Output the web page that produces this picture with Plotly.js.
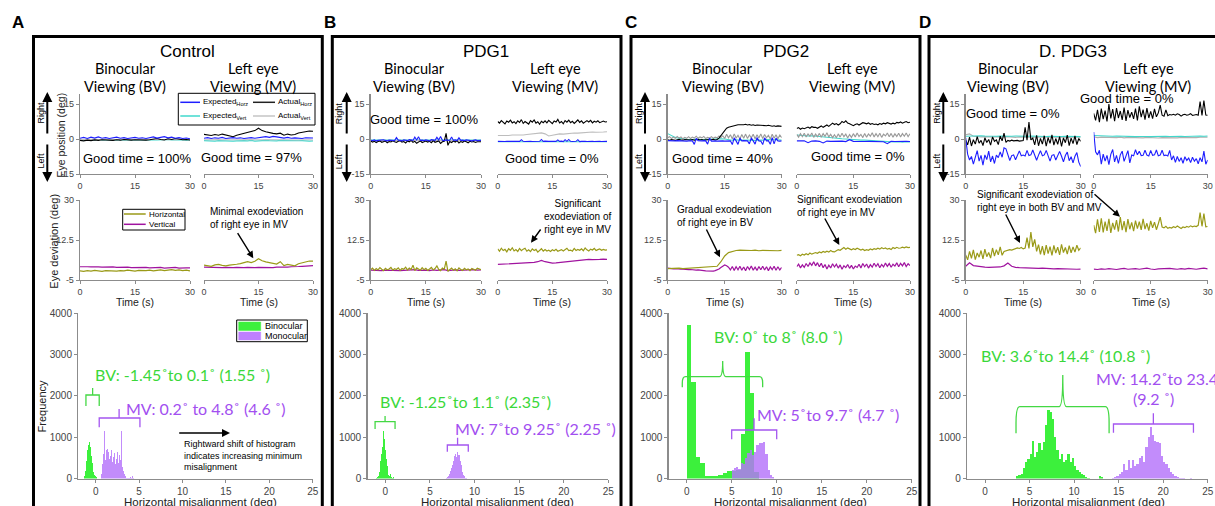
<!DOCTYPE html>
<html><head><meta charset="utf-8">
<script src="https://cdn.plot.ly/plotly-3.0.1.min.js"></script>
<style>html,body{margin:0;padding:0;background:#fff}#chart{width:1215px;height:506px}</style>
</head><body><div id="chart"></div>
<script>
// ---------------- DATA ----------------
const T = [0,1,2,3,4,5,6,7,8,9,10,11,12,13,14,15,16,17,18,19,20,21,22,23,24,25,26,27,28,29,30];
const T2 = [0,0.5,1,1.5,2,2.5,3,3.5,4,4.5,5,5.5,6,6.5,7,7.5,8,8.5,9,9.5,10,10.5,11,11.5,12,12.5,13,13.5,14,14.5,15,15.5,16,16.5,17,17.5,18,18.5,19,19.5,20,20.5,21,21.5,22,22.5,23,23.5,24,24.5,25,25.5,26,26.5,27,27.5,28,28.5,29,29.5,30];

const PANEL_LETTERS = ['A','B','C','D'];
const PANEL_TITLES = ['Control','PDG1','PDG2','D. PDG3'];
const GOOD_BV = ['Good time = 100%','Good time = 100%','Good time = 40%','Good time = 0%'];
const GOOD_MV = ['Good time = 97%','Good time = 0%','Good time = 0%','Good time = 0%'];
const BV_RANGE_TXT = ['BV: -1.45˚to 0.1˚ (1.55 ˚)','BV: -1.25˚to 1.1˚ (2.35˚)','BV: 0˚ to 8˚ (8.0 ˚)','BV: 3.6˚to 14.4˚ (10.8 ˚)'];
const MV_RANGE_TXT = ['MV: 0.2˚ to 4.8˚ (4.6 ˚)','MV: 7˚to 9.25˚ (2.25 ˚)','MV: 5˚to 9.7˚ (4.7 ˚)','MV: 14.2˚to 23.4˚'];
const MV_RANGE_TXT2 = ['','','','(9.2 ˚)'];
const POS_TICKS = [-15,0,15], DEV_TICKS = [-5,12.5,30], TIME_TICKS = [0,15,30];
const HIST_XTICKS = [0,5,10,15,20,25], HIST_YTICKS = [0,1000,2000,3000,4000];

// Panel A (Control)
const A_BV_expH = [0.3,0.7,0.2,0.8,0.4,0.9,0.3,0.6,0.2,0.5,0.8,0.3,0.6,0.2,0.4,0.7,0.3,0.5,0.2,0.6,0.9,0.4,0.7,1.0,0.5,0.8,0.3,0.6,0.2,0.4,0.1];
const A_BV_actH = [-0.6,-0.8,-0.5,-0.7,-0.4,-0.6,-0.3,-0.5,-0.4,-0.6,-0.3,-0.5,-0.2,-0.4,-0.5,-0.3,-0.4,-0.2,-0.5,-0.3,-0.1,0.2,-0.2,-0.4,0.1,-0.2,0.2,-0.1,-0.3,-0.2,-0.4];
const A_BV_expV = [-0.4,-0.3,-0.5,-0.3,-0.4,-0.2,-0.4,-0.3,-0.5,-0.4,-0.3,-0.4,-0.2,-0.3,-0.4,-0.3,-0.5,-0.3,-0.4,-0.2,-0.3,-0.4,-0.3,-0.5,-0.2,-0.4,-0.3,-0.4,-0.3,-0.5,-0.4];
const A_BV_actV = [-0.2,-0.1,-0.3,-0.2,-0.1,-0.2,-0.3,-0.1,-0.2,-0.2,-0.1,-0.3,-0.2,-0.1,-0.2,-0.3,-0.2,-0.1,-0.2,-0.3,-0.1,-0.2,-0.2,-0.3,-0.1,-0.2,-0.3,-0.2,-0.1,-0.2,-0.3];
const A_BV_hor = [-1.0,-1.2,-0.9,-1.1,-0.8,-1.0,-1.2,-0.9,-1.0,-0.8,-1.1,-0.9,-1.0,-0.7,-0.9,-1.1,-0.8,-1.0,-0.9,-0.7,-1.0,-0.8,-0.6,-0.9,-0.7,-0.5,-0.8,-0.6,-0.9,-0.7,-1.0];
const A_BV_ver = [0.8,0.9,0.8,0.7,0.8,0.7,0.6,0.7,0.6,0.7,0.5,0.6,0.5,0.6,0.4,0.5,0.3,0.4,0.5,0.3,0.4,0.3,0.5,0.2,0.4,0.3,0.5,0.2,0.4,0.3,0.3];
const A_MV_expH = [0.3,0.6,0.2,0.5,0.3,0.7,0.2,0.4,0.6,0.3,0.5,0.2,0.4,0.6,0.3,0.5,0.8,1.0,0.7,1.1,0.9,0.6,0.4,0.7,0.3,0.5,0.4,0.2,0.5,0.3,0.4];
const A_MV_actH = [2.0,1.8,1.5,1.9,1.6,2.1,1.8,1.2,1.0,1.6,2.0,2.3,2.8,3.1,3.6,4.6,3.6,3.1,2.6,2.4,2.2,2.5,1.6,2.1,1.7,1.9,2.6,2.9,3.3,3.4,3.3];
const A_MV_expV = [-0.7,-0.8,-0.6,-0.9,-0.7,-0.8,-0.6,-0.7,-0.9,-0.8,-0.6,-0.7,-0.8,-0.6,-0.9,-0.7,-0.8,-0.6,-0.7,-0.9,-0.8,-0.6,-0.7,-0.8,-0.9,-0.7,-0.6,-0.8,-0.7,-0.9,-0.8];
const A_MV_actV = [-0.3,-0.2,-0.4,-0.3,-0.2,-0.3,-0.4,-0.2,-0.3,-0.3,-0.2,-0.4,-0.3,-0.2,-0.3,-0.4,-0.3,-0.2,-0.3,-0.4,-0.2,-0.3,-0.3,-0.4,-0.2,-0.3,-0.4,-0.3,-0.2,-0.3,-0.4];
const A_MV_hor = [1.5,1.3,1.0,1.6,1.8,1.4,1.2,1.5,1.6,1.9,2.2,2.5,3.0,2.6,3.2,4.3,3.4,2.9,2.5,2.2,2.0,3.0,1.3,1.8,1.4,1.2,2.1,2.6,3.1,3.3,3.3];
const A_MV_ver = [0.6,0.5,0.6,0.4,0.5,0.4,0.5,0.3,0.4,0.5,0.3,0.4,0.5,0.3,0.4,0.5,0.4,0.6,0.5,0.4,0.6,0.5,0.7,0.6,0.8,0.7,0.9,1.0,1.1,1.2,1.3];
const A_binX = [-1.3,-1.2,-1.1,-1.0,-0.9,-0.8,-0.7,-0.6,-0.5,-0.4,-0.3,-0.2,-0.1,0.0,0.1];
const A_binY = [60,180,420,640,700,820,880,760,540,380,250,160,90,50,30];
const A_monX = [0.7,0.8,0.9,1.0,1.1,1.2,1.3,1.4,1.5,1.6,1.7,1.8,1.9,2.0,2.1,2.2,2.3,2.4,2.5,2.6,2.7,2.8,2.9,3.0,3.1,3.2,3.3,3.4,3.5,3.6,3.7,3.8,3.9,4.0,4.1,4.2,4.3,4.4];
const A_monY = [100,350,600,1150,450,700,380,720,650,480,550,700,400,1000,520,620,350,480,650,380,560,300,450,1150,280,180,120,60,30,15,10,20,10,40,10,60,90,20];

// Panel B (PDG1)
const B_BV_expH = [-0.5,-0.7,-0.4,-0.8,-0.6,-0.5,-0.7,-0.3,-0.6,-0.8, -0.5,-0.6,-0.4,-0.7,0.6,-0.5,-0.6,-0.8,-0.4,-0.6, -0.7,-0.3,-0.5,-0.6,0.8,-0.4,1.0,-0.6,-0.5,-0.7, -0.4,-0.6,-0.8,-0.3,-0.5,-0.6,0.7,-0.4,1.1,-0.5, -0.7,-0.4,-0.6,-0.5,0.9,-0.6,-0.4,-0.7,0.5,-0.6, -0.5,-0.7,-0.4,-0.6,-0.5,-0.8,-0.6,-0.4,-0.7,-0.5, -0.6];
const B_BV_actH = [-0.9,-1.3,-1.0,-1.5,-1.1,-0.8,-1.4,-1.2,-0.9,-1.6, -1.1,-1.3,-0.8,-1.2,-1.5,-1.0,-0.7,-1.3,-1.1,-1.7, -0.9,-1.2,-0.6,-1.4,-1.0,-1.8,-1.1,-0.8,-1.5,-1.2, -0.9,-1.3,-1.0,-1.6,-0.7,-1.4,-1.1,-0.8,-1.9,-1.2, -1.0,2.4,-2.7,-1.1,-1.5,-0.9,-1.3,-0.7,-1.7,-1.1, -1.4,-0.9,-1.2,-1.6,-1.0,-1.3,-1.1,-1.5,-1.2,-1.3, -1.2];
const B_BV_expV = [-0.5,-0.6,-0.5,-0.4,-0.5,-0.6,-0.5,-0.5,-0.4,-0.5,-0.6,-0.5,-0.5,-0.4,-0.5,-0.6,-0.5,-0.5,-0.4,-0.5,-0.6,-0.5,-0.5,-0.4,-0.5,-0.6,-0.5,-0.5,-0.4,-0.5,-0.5];
const B_BV_actV = [-0.7,-0.8,-0.7,-0.6,-0.7,-0.8,-0.7,-0.7,-0.6,-0.7,-0.8,-0.7,-0.7,-0.6,-0.7,-0.8,-0.7,-0.7,-0.6,-0.7,-0.8,-0.7,-0.7,-0.6,-0.7,-0.8,-0.7,-0.7,-0.6,-0.7,-0.7];
const B_BV_hor = [-0.5,0.2,-0.8,0.0,-0.6,0.4,-0.3,-0.9,0.1,-0.5, -0.2,0.5,-0.7,-0.1,-0.4,0.3,-0.8,0.0,-0.3,0.6, -0.6,0.2,-0.4,1.5,-0.9,0.3,-0.2,-0.7,0.4,-0.5, 0.1,-0.8,-0.2,0.5,-0.6,0.0,1.2,-0.4,-0.9,0.2, -0.3,3.3,-1.2,-0.5,0.2,-0.7,-0.1,-1.0,0.3,-0.4, -0.8,0.1,-0.5,-0.2,-0.9,0.0,-0.4,-0.7,0.2,-0.3, -0.5];
const B_BV_ver = [-0.7,-0.8,-0.6,-0.9,-0.7,-0.8,-0.6,-0.7,-0.9,-0.8,-0.6,-0.7,-0.5,-0.8,-0.6,-0.7,-0.9,-0.6,-0.8,-0.7,-0.5,-0.9,-0.7,-0.6,-0.8,-0.7,-0.6,-0.8,-0.5,-0.7,-0.6];
const B_MV_expH = [-1.0,-1.1,-0.9,-1.0,-1.1,-1.0,-0.9,-1.1,-1.0,-1.0, -1.1,-0.9,-1.0,-0.3,-1.0,-1.1,-1.0,-0.9,-1.0,-1.1, -1.0,-0.9,-1.1,-1.0,-0.2,-1.0,-0.9,-1.1,-1.0,-1.0, -0.9,-1.1,-1.0,-0.4,-1.0,-0.9,-1.1,-0.3,-1.0,-0.2, -1.0,-1.1,-0.9,-1.0,-0.3,-1.1,-1.0,-0.9,-1.0,-1.1, -1.0,-0.9,-1.0,-1.1,-1.0,-0.9,-1.0,-1.1,-1.0,-0.9, -1.0];
const B_MV_actH = [7.5,6.8,7.9,7.0,6.5,7.7,7.2,8.1,6.9,7.4, 6.6,7.8,7.1,8.3,6.7,7.5,7.0,6.4,7.9,7.2, 8.2,6.8,7.4,6.3,7.6,7.0,7.8,6.9,8.0,7.1, 6.6,7.7,7.3,8.4,6.9,7.5,6.5,7.9,7.2,8.1, 7.0,7.6,6.7,7.4,8.2,7.1,7.8,6.8,7.5,7.9, 7.3,8.0,6.9,7.6,7.2,7.8,7.0,7.5,7.7,7.3, 7.4];
const B_MV_expV = [-1.2,-1.1,-1.2,-1.2,-1.1,-1.2,-1.2,-1.1,-1.2,-1.2,-1.1,-1.2,-1.2,-1.1,-1.2,-1.2,-1.1,-1.2,-1.2,-1.1,-1.2,-1.2,-1.1,-1.2,-1.2,-1.1,-1.2,-1.2,-1.1,-1.2,-1.2];
const B_MV_actV = [1.5,1.4,1.6,1.5,1.7,1.6,1.8,1.7,1.9,2.0,2.1,2.3,2.6,2.2,1.3,1.6,1.9,2.2,2.1,2.3,2.4,2.6,2.5,2.7,2.8,2.9,3.0,2.9,3.1,3.0,3.1];
const B_MV_hor = [8.6,7.6,8.9,7.9,8.4,7.3,8.7,8.0,9.1,7.7, 8.3,7.5,8.8,7.8,8.5,8.9,7.6,8.2,7.4,8.6, 7.9,8.4,7.2,8.1,8.7,7.6,8.3,7.7,8.0,7.5, 8.2,7.8,8.4,7.6,8.0,8.3,7.7,8.5,8.9,7.9, 8.1,7.6,8.8,7.9,8.4,8.0,8.6,7.8,9.0,8.2, 7.7,8.5,8.1,8.8,7.9,8.3,8.6,8.0,8.4,8.1, 8.2];
const B_MV_ver = [1.8,1.9,2.0,1.9,2.1,2.0,2.2,2.3,2.4,2.5,2.7,3.0,3.6,3.0,2.6,2.4,2.5,2.7,2.9,3.1,3.3,3.5,3.6,3.8,3.9,4.0,3.9,3.8,4.0,4.1,4.0];
const B_binX = [-1.0,-0.9,-0.8,-0.7,-0.6,-0.5,-0.4,-0.3,-0.2,-0.1,0.0,0.1,0.2,0.3,0.4,0.5,0.6,0.7,0.8,0.9,2.2];
const B_binY = [10,30,60,150,300,420,600,760,1150,950,700,480,300,160,90,60,100,40,20,30,15];
const B_monX = [6.9,7.0,7.1,7.2,7.3,7.4,7.5,7.6,7.7,7.8,7.9,8.0,8.1,8.2,8.3,8.4,8.5,8.6,8.7,8.8,8.9,9.0,9.1];
const B_monY = [10,30,60,100,180,250,330,420,470,540,600,520,650,580,560,420,330,250,160,90,50,20,10];

// Panel C (PDG2)
const C_BV_expH = [-0.7,-0.8,-0.7,-0.9,-0.8,-0.7,-0.8,-0.9,-0.7,-0.8, -0.9,-0.8,-0.7,-0.8,-2.3,0.3,-0.7,-0.9,-0.8,-0.7, -0.8,-2.2,0.4,-0.9,-0.7,-0.8,-0.9,-0.8,-0.7,-0.8, -0.9,-0.8,-0.7,-0.8,-2.4,0.5,-0.8,-2.3,0.4,-0.8, -0.7,-0.9,-0.8,-2.1,0.5,-0.8,-2.2,0.6,-0.8,-0.9, -2.4,0.5,-0.8,-0.7,-2.3,0.6,-2.1,0.4,-0.8,-0.9, -0.8];
const C_BV_actH = [-0.3,-0.5,-0.2,-0.4,-0.6,-0.3,-0.1,-0.4,-0.5,-0.2, -0.3,-0.6,-0.4,-0.2,-0.5,-0.3,-0.1,-0.4,-0.2,-0.5, -0.3,-0.4,-0.2,-0.3,-0.1,-0.4,-0.2,0.4,1.5,2.8, 3.9,4.6,5.0,5.3,5.5,5.8,5.9,6.1,6.0,6.2, 6.1,6.3,6.0,6.2,5.9,6.1,5.8,6.0,5.9,5.7, 5.8,5.6,5.7,5.9,5.6,5.5,5.7,5.4,5.6,5.5, 5.4];
const C_BV_expV = [2.3,1.5,0.7,0.3,0.0,-0.1,-0.2,0.0,-0.1,-0.2,-0.1,0.0,-0.2,-0.1,0.1,0.0,-0.3,-0.5,-0.3,-0.6,-0.4,-0.5,-0.3,-0.6,-0.4,-0.5,-0.2,-0.3,-0.4,-0.3,-0.4];
const C_BV_actV = [0.5,1.0,0.2,0.8,0.3,1.1,0.4,0.9,0.1,0.7, 0.3,1.0,0.2,0.8,0.4,1.2,0.3,0.9,0.5,1.1, 0.2,0.7,0.4,1.0,0.3,0.8,0.5,1.3,0.6,1.4, 0.2,2.0,0.5,1.8,0.1,2.2,0.4,1.6,0.0,1.9, 0.3,2.1,0.2,1.7,0.5,2.0,0.1,1.8,0.4,2.2, 0.2,1.9,0.5,1.6,0.0,2.0,0.3,1.8,0.1,1.7, 0.6];
const C_BV_hor = [0.0,0.1,-0.1,0.2,0.0,0.1,0.3,0.2,0.4,0.3,0.5,0.6,0.8,1.0,3.0,5.5,7.0,7.6,7.9,8.1,8.0,8.2,7.9,8.1,7.8,8.0,7.9,7.7,7.9,7.8,8.0];
const C_BV_ver = [0.2,0.0,0.1,-0.1,0.0,-0.2,-0.1,-0.3,-0.2,-0.4, -0.3,-0.5,-0.4,-0.6,-0.5,-0.7,-0.6,-0.8,-0.7,-0.9, -1.0,-1.1,-1.0,-1.2,-1.1,-0.9,-0.6,-0.2,0.5,1.2, 1.6,1.2,0.6,-0.6,0.9,-0.8,0.8,-0.5,1.0,-0.7, 0.7,-0.9,0.9,-0.4,1.1,-0.7,0.6,-0.8,0.9,-0.5, 1.0,-0.6,0.8,-0.9,0.7,-0.5,1.0,-0.7,0.8,-0.6, 0.5];
const C_MV_expH = [-0.8,-0.9,-0.8,-1.6,-0.9,-0.8,-1.0,-1.7,-0.9,-1.0,-0.9,-1.0,-0.9,-1.1,-0.3,-1.0,-1.1,-1.0,-1.1,-1.0,-1.1,-1.0,-1.1,-1.2,-2.0,-1.0,-1.1,-1.0,-1.1,-1.0,-1.1];
const C_MV_actH = [4.5,4.9,4.2,4.7,4.4,4.9,5.1,4.6,5.3,5.0, 5.0,4.6,5.2,5.6,5.0,5.5,6.0,5.4,6.3,6.8, 6.2,6.6,6.0,6.5,7.5,7.0,7.8,6.8,6.5,6.0, 5.7,6.2,6.5,6.0,6.4,7.0,6.8,6.5,6.9,6.3, 6.6,6.2,6.4,6.1,6.6,6.3,6.8,6.5,7.0,6.7, 6.4,6.8,6.5,7.1,6.9,7.3,6.8,7.2,7.5,7.0, 7.2];
const C_MV_expV = [1.7,1.5,1.6,1.3,1.4,1.2,1.0,0.9,0.8,0.6,0.5,0.3,0.1,0.0,-0.2,-0.4,-0.3,-0.5,-0.4,-0.6,-0.5,-0.8,-0.9,-1.0,-1.2,-1.1,-1.3,-1.2,-1.4,-1.2,-1.3];
const C_MV_actV = [2.0,0.8,2.3,1.0,2.5,0.9,2.2,1.2,2.6,0.7, 2.1,1.0,2.4,0.8,2.3,1.1,2.7,0.9,2.0,0.6, 1.8,0.5,2.2,0.8,2.5,1.0,2.1,0.4,1.9,0.7, 2.3,0.9,2.6,1.1,2.0,0.6,2.4,0.8,2.2,1.2, 2.7,0.9,2.3,1.0,2.5,0.7,2.1,1.3,2.6,1.0, 2.4,0.8,2.2,1.1,2.5,0.9,2.3,1.2,2.6,1.0, 2.2];
const C_MV_hor = [5.8,6.1,5.6,6.3,5.9,6.5,6.0,6.8,6.3,6.6, 7.0,6.7,7.3,6.9,7.5,7.1,7.6,7.2,7.9,7.4, 7.3,7.8,8.3,8.0,8.8,9.2,8.5,9.0,8.6,8.2, 8.7,8.3,8.9,8.4,8.1,8.5,7.9,8.3,8.0,8.6, 8.2,8.7,8.4,8.9,8.5,9.1,8.7,9.0,8.5,8.8, 8.3,9.2,8.8,9.3,8.9,9.0,9.4,9.1,9.5,9.2, 9.3];
const C_MV_ver = [0.8,1.9,0.3,1.6,0.5,2.2,0.9,2.5,1.4,3.0, 1.2,2.6,0.8,2.3,0.4,1.8,-0.2,1.5,0.3,2.1, 0.7,1.9,0.2,1.6,-0.3,1.2,0.4,1.8,0.1,1.4, -0.2,1.1,0.5,1.9,0.3,2.2,0.8,2.0,0.2,1.7, 0.6,2.3,0.9,2.1,0.4,1.8,0.7,2.4,1.0,2.2, 0.6,1.9,1.1,2.5,0.8,2.3,1.2,2.6,0.9,2.1, 1.3];
const C_binX = [0.25,0.75,1.25,1.75,2.25,2.75,3.25,3.75,4.25,4.75,5.25,5.75,6.25,6.75,7.25,7.75];
const C_binY = [3720,2330,530,370,70,70,60,80,140,170,190,200,1070,3050,2070,150];
const C_monX = [5.125,5.375,5.625,5.875,6.125,6.375,6.625,6.875,7.125,7.375,7.625,7.875,8.125,8.375,8.625,8.875,9.125,9.375,9.625];
const C_monY = [200,260,290,230,380,350,500,620,700,580,650,800,850,870,880,600,200,80,30];

// Panel D (PDG3)
const D_BV_expH = [0.5,-6.5,-9.0,-7.5,-10.8,-7.2,-5.0,-9.5,-7.0,-11.2, -6.8,-8.8,-5.2,-9.8,-7.3,-10.5,-6.9,-8.0,-5.5,-7.8, -3.8,-4.2,-6.9,-9.2,-7.1,-6.8,-8.9,-7.0,-5.1,-7.2, -6.9,-7.3,-4.9,-7.1,-6.8,-4.7,-7.0,-9.1,-6.9,-5.0, -7.2,-6.8,-4.9,-7.1,-9.5,-7.0,-6.7,-9.0,-7.2,-5.3, -7.4,-9.8,-7.1,-5.6,-9.3,-7.6,-10.2,-7.4,-5.8,-9.9, -11.8];
const D_BV_actH = [-0.5,-2.5,0.8,-3.0,-0.3,-2.2,1.0,-1.8,-0.6,-2.8, 0.5,-1.5,-0.2,-2.6,0.9,-1.0,-0.4,-2.4,1.2,-0.8, 2.5,-1.4,-0.6,-0.9,-0.5,-0.8,-0.7,-0.6,-0.9,-0.8, -0.7,5.0,-0.5,7.3,-0.4,0.4,-2.5,1.6,-2.9,0.3, -2.2,1.4,-3.1,0.6,-1.9,1.8,-2.6,0.2,-2.3,1.0, -3.2,0.5,-1.6,1.7,-2.8,0.4,-2.0,1.3,-2.4,0.2, -1.0];
const D_BV_expV = [1.2,1.3,1.2,1.3,1.4,1.3,1.2,1.3,1.2,1.3,1.2,1.1,1.2,1.3,1.2,1.1,1.2,1.3,1.2,1.1,1.2,1.1,1.2,1.1,1.0,1.1,1.2,1.1,1.0,1.1,1.0];
const D_BV_actV = [1.8,2.2,1.2,1.0,0.9,1.0,0.8,0.9,1.0,0.8,0.9,1.0,0.8,0.7,0.9,0.8,1.0,0.9,0.8,0.9,0.7,0.8,0.9,0.8,0.7,0.9,0.8,0.7,0.8,0.9,0.8];
const D_BV_hor = [6.0,3.8,7.5,4.5,8.2,3.9,6.8,5.0,7.9,4.2, 8.5,5.2,7.0,4.6,9.0,5.5,8.3,6.0,9.5,5.8, 7.5,7.8,8.0,8.3,8.1,8.5,8.7,9.0,8.8,9.2, 8.6,9.0,13.5,8.8,16.0,9.5,12.8,7.5,10.5,6.2, 9.8,5.9,10.3,6.5,9.6,5.8,10.1,6.8,9.4,6.0, 10.6,7.0,9.2,6.3,10.0,6.9,9.5,7.2,10.2,8.0, 9.0];
const D_BV_ver = [1.0,2.5,1.3,1.0,0.8,0.6,0.5,0.6,0.4,0.7,1.2,2.4,1.0,0.5,0.4,0.3,0.2,0.3,0.2,0.1,0.2,0.0,0.1,-0.1,0.0,-0.1,-0.2,-0.1,-0.2,-0.3,-0.2];
const D_MV_expH = [3.0,-5.5,-6.8,-4.8,-10.8,-6.5,-9.5,-7.0,-11.0,-6.6, -4.5,-9.8,-7.0,-10.5,-6.8,-5.2,-9.6,-7.1,-5.0,-10.2, -6.9,-7.2,-4.6,-6.8,-5.2,-7.1,-7.0,-4.8,-6.9,-7.3, -4.9,-7.0,-6.8,-4.7,-7.2,-6.9,-4.8,-7.1,-6.9,-7.3, -4.9,-9.0,-7.2,-10.0,-7.5,-9.6,-8.0,-10.4,-7.6,-9.2, -8.2,-10.1,-7.8,-9.5,-8.4,-10.6,-8.0,-9.8,-5.2,-10.8, -9.0];
const D_MV_actH = [11.0,8.0,12.5,7.2,13.0,8.5,12.2,7.5,15.0,8.8, 12.8,7.6,13.2,9.0,12.0,8.2,13.5,7.8,12.4,9.2, 11.5,8.6,13.0,8.0,14.0,9.4,12.6,8.3,13.2,9.0, 11.8,8.7,12.9,9.5,11.2,14.5,10.2,9.8,12.5,10.0, 10.5,10.3,10.6,10.2,10.8,10.5,9.8,10.4,10.6,10.2, 10.4,10.9,10.1,10.3,10.5,10.2,16.0,10.1,16.5,10.3, 10.2];
const D_MV_expV = [1.5,1.4,1.3,1.4,1.3,1.2,1.3,1.2,1.1,1.2,1.1,1.0,1.1,1.2,1.1,1.0,1.1,1.0,1.1,1.2,1.1,1.2,1.3,1.2,1.1,1.2,1.3,1.2,1.3,1.2,1.3];
const D_MV_actV = [1.0,0.6,0.8,0.7,0.5,0.7,0.6,0.8,0.5,0.7,0.6,0.4,0.6,0.5,0.7,0.5,0.6,0.4,0.6,0.5,0.7,0.6,0.5,0.7,0.6,0.8,0.7,0.6,0.8,0.7,0.8];
const D_MV_hor = [19.0,15.5,21.5,16.0,22.0,15.8,20.5,16.5,21.8,15.6, 20.0,17.0,21.2,16.2,22.5,16.8,20.8,15.9,21.6,17.2, 20.2,16.4,21.0,17.5,20.5,16.9,21.8,17.3,19.8,16.6, 20.9,17.8,20.3,17.0,19.6,22.5,18.2,17.8,18.5,17.6, 18.0,17.7,18.3,17.9,18.6,18.0,17.5,18.2,17.9,18.4, 18.1,18.7,18.3,18.6,18.4,18.9,24.5,18.5,24.0,18.3, 18.4];
const D_MV_ver = [-0.2,-0.4,-0.1,-0.3,0.0,-0.2,-0.4,-0.1,0.1,-0.3,-0.2,0.0,-0.3,-0.1,0.2,-0.2,-0.4,-0.1,0.0,-0.2,0.1,-0.1,-0.3,0.0,-0.2,0.1,-0.1,-0.3,0.0,0.2,-0.1];
const D_binX = [3.625,3.875,4.125,4.375,4.625,4.875,5.125,5.375,5.625,5.875,6.125,6.375,6.625,6.875,7.125,7.375,7.625,7.875,8.125,8.375,8.625,8.875,9.125,9.375,9.625,9.875,10.125,10.375,10.625,10.875,11.125,11.375,11.625,12.875,13.125];
const D_binY = [60,80,100,250,400,480,600,900,520,650,850,700,880,1300,1650,1600,1450,1000,700,480,600,400,450,600,400,500,300,200,150,120,80,40,20,60,40];
const D_monX = [14.375,14.625,14.875,15.125,15.375,15.625,15.875,16.125,16.375,16.625,16.875,17.125,17.375,17.625,17.875,18.125,18.375,18.625,18.875,19.125,19.375,19.625,19.875,20.125,20.375,20.625,20.875,21.125,21.375,21.625,21.875,22.125,22.375,23.125];
const D_monY = [20,30,60,120,150,350,200,450,250,450,300,350,500,550,400,750,1000,1250,1050,900,880,850,550,400,350,250,150,100,60,30,20,15,10,20];

// Bracket extents (data units of the histogram axes): [x0, x1, xc, yTop, yBar, yEnd]
const BR_BV = [[-1.12,0.41,-0.35,2187,2018,1752],[-1.15,1.09,-0.03,1510,1373,1196],[-0.49,8.44,4.0,2840,2460,2204],[3.48,13.93,8.73,2502,1735,1093]];
const BR_MV = [[0.41,5.1,2.7,1680,1462,1237],[6.95,9.3,8.1,986,810,648],[5.0,10.0,7.48,1455,1172,947],[14.42,23.4,18.9,1576,1317,1107]];

// ---------------- BUILD ----------------
const W=1215,H=506;
const ARIAL='"Liberation Sans", Arial, sans-serif', CAL='Lato, "Open Sans", sans-serif';
const COL={expH:'#1e1eff',actH:'#000000',expV:'#40d8cc',hor:'#9a9a18',ver:'#a0139f',bin:'#3cf03c',mon:'rgba(180,115,250,0.82)',binTxt:'#3ad83a',monTxt:'#a24ff0',axis:'#8c8c8c',tick:'#444444'};

const SER = {
 A:{BV:{pos:{expV:[T,A_BV_expV],actV:[T,A_BV_actV],actH:[T,A_BV_actH],expH:[T,A_BV_expH]},dev:{ver:[T,A_BV_ver],hor:[T,A_BV_hor]}},
    MV:{pos:{expV:[T,A_MV_expV],actV:[T,A_MV_actV],actH:[T,A_MV_actH],expH:[T,A_MV_expH]},dev:{ver:[T,A_MV_ver],hor:[T,A_MV_hor]}},
    hist:{bin:[A_binX,A_binY,0.1],mon:[A_monX,A_monY,0.1]}},
 B:{BV:{pos:{expV:[T,B_BV_expV],actV:[T,B_BV_actV],actH:[T2,B_BV_actH],expH:[T2,B_BV_expH]},dev:{ver:[T,B_BV_ver],hor:[T2,B_BV_hor]}},
    MV:{pos:{expV:[T,B_MV_expV],actV:[T,B_MV_actV],actH:[T2,B_MV_actH],expH:[T2,B_MV_expH]},dev:{ver:[T,B_MV_ver],hor:[T2,B_MV_hor]}},
    hist:{bin:[B_binX,B_binY,0.1],mon:[B_monX,B_monY,0.1]}},
 C:{BV:{pos:{expV:[T,C_BV_expV],actV:[T2,C_BV_actV],actH:[T2,C_BV_actH],expH:[T2,C_BV_expH]},dev:{ver:[T2,C_BV_ver],hor:[T,C_BV_hor]}},
    MV:{pos:{expV:[T,C_MV_expV],actV:[T2,C_MV_actV],actH:[T2,C_MV_actH],expH:[T,C_MV_expH]},dev:{ver:[T2,C_MV_ver],hor:[T2,C_MV_hor]}},
    hist:{bin:[C_binX,C_binY,0.5],mon:[C_monX,C_monY,0.25]}},
 D:{BV:{pos:{actV:[T,D_BV_actV],expV:[T,D_BV_expV],actH:[T2,D_BV_actH],expH:[T2,D_BV_expH]},dev:{ver:[T,D_BV_ver],hor:[T2,D_BV_hor]}},
    MV:{pos:{actV:[T,D_MV_actV],expV:[T,D_MV_expV],actH:[T2,D_MV_actH],expH:[T2,D_MV_expH]},dev:{ver:[T,D_MV_ver],hor:[T2,D_MV_hor]}},
    hist:{bin:[D_binX,D_binY,0.25],mon:[D_monX,D_monY,0.25]}}
};

// layout geometry (pixels)
const GEO = [
 {bv:[80,190], mv:[204,313], hist:[78.3,312.7], box:[33.5,322.3], arrowX:47.3, rlX:40.5, sub:[125,253], title:187.5, letter:18.3, gt:[[137,159],[251.5,157]], gray:'#c4c4c4', brTxt:[[92.7,374],[124,408.3]], curly:false, xlab:200.5},
 {bv:[370.7,481], mv:[497.7,607], hist:[367.5,608.3], box:[332.3,621], arrowX:346.7, rlX:339.3, sub:[414,555], title:486.3, letter:330, gt:[[423.8,120],[552.2,158]], gray:'#bdbdbd', brTxt:[[378,401.7],[453,428]], curly:false, xlab:497},
 {bv:[667.7,781.7], mv:[796.7,910], hist:[668.7,911.7], box:[631,920], arrowX:645, rlX:639, sub:[722.5,852], title:786, letter:631, gt:[[722.5,159],[858.3,156.7]], gray:'#9a9a9a', brTxt:[[711.7,336.7],[755,414.3]], curly:true, xlab:790.8},
 {bv:[965.7,1080.7], mv:[1093.7,1207.7], hist:[967.2,1207.7], box:[929,1240], arrowX:943.3, rlX:936.7, sub:[1008,1148], title:1073.3, letter:925, gt:[[1013,113.3],[1126.7,99]], gray:'#b0b0b0', brTxt:[[979.3,355],[1094,378.3]], curly:true, xlab:1088.7}
];
const ROW = {pos:[93.5,174], dev:[200,280], hist:[313,478.5]};

const xd = (a)=>[a[0]/W, a[1]/W];
const yd = (r)=>[1-r[1]/H, 1-r[0]/H];
const layout = {width:W,height:H,margin:{l:0,r:0,t:0,b:0},paper_bgcolor:'#fff',plot_bgcolor:'rgba(0,0,0,0)',showlegend:false,barmode:'overlay',bargap:0,annotations:[],shapes:[]};
const traces = [];
const axBase = ()=>({showgrid:false,zeroline:false,showline:true,linecolor:COL.axis,linewidth:1.3,ticks:'outside',ticklen:3,tickwidth:1,tickcolor:COL.axis,tickfont:{family:ARIAL,size:9,color:COL.tick},fixedrange:true});
const hidden = ()=>({visible:false,fixedrange:true});

function tickSet(vals){return {tickmode:'array',tickvals:vals,ticktext:vals.map(v=>String(v))};}

function txt(x,y,t,o){layout.annotations.push(Object.assign({xref:'paper',yref:'paper',x:x/W,y:1-y/H,text:t,showarrow:false,xanchor:'center',yanchor:'middle',font:{family:ARIAL,size:10,color:'#000'}},o||{}));}
function arrow(x0,y0,x1,y1,o){layout.annotations.push(Object.assign({xref:'paper',yref:'paper',x:x1/W,y:1-y1/H,axref:'pixel',ayref:'pixel',ax:x0-x1,ay:y0-y1,text:'',showarrow:true,arrowhead:2,arrowsize:1,arrowwidth:1.4,arrowcolor:'#000'},o||{}));}
function pline(x0,y0,x1,y1,color,w){layout.shapes.push({type:'line',xref:'paper',yref:'paper',x0:x0/W,y0:1-y0/H,x1:x1/W,y1:1-y1/H,line:{color:color,width:w||1}});}
function prect(x0,y0,x1,y1,line,fill,w){layout.shapes.push({type:'rect',xref:'paper',yref:'paper',x0:x0/W,y0:1-y1/H,x1:x1/W,y1:1-y0/H,line:{color:line,width:w||1},fillcolor:fill||'rgba(0,0,0,0)'});}

const posColor = (g)=>({expH:COL.expH,actH:COL.actH,expV:COL.expV,actV:g.gray});

PANEL_LETTERS.forEach((L,i)=>{
  const g = GEO[i], S = SER[L];
  const subs = [['BV','pos',g.bv,ROW.pos],['MV','pos',g.mv,ROW.pos],['BV','dev',g.bv,ROW.dev],['MV','dev',g.mv,ROW.dev],[null,'hist',g.hist,ROW.hist]];
  subs.forEach((sd,s)=>{
    const n=i*5+s+1, sx = n===1?'':String(n);
    const xk='xaxis'+sx, yk='yaxis'+sx, xr='x'+sx, yr='y'+sx;
    const xa = Object.assign(axBase(),{domain:xd(sd[2]),anchor:yr});
    let ya;
    if(sd[1]==='pos'){
      Object.assign(xa,{range:[0,30]},tickSet(TIME_TICKS));
      ya = sd[0]==='BV' ? Object.assign(axBase(),{domain:yd(sd[3]),anchor:xr,range:[-15,19.5]},tickSet(POS_TICKS)) : Object.assign(hidden(),{domain:yd(sd[3]),anchor:xr,range:[-15,19.5]});
      const grp = S[sd[0]].pos, pc = posColor(g);
      Object.keys(grp).forEach(k=>{traces.push({type:'scatter',mode:'lines',x:grp[k][0],y:grp[k][1],xaxis:xr,yaxis:yr,line:{color:pc[k],width:1.1},hoverinfo:'skip'});});
    } else if(sd[1]==='dev'){
      Object.assign(xa,{range:[0,30]},tickSet(TIME_TICKS));
      ya = sd[0]==='BV' ? Object.assign(axBase(),{domain:yd(sd[3]),anchor:xr,range:[-5,30]},tickSet(DEV_TICKS)) : Object.assign(hidden(),{domain:yd(sd[3]),anchor:xr,range:[-5,30]});
      const grp = S[sd[0]].dev;
      Object.keys(grp).forEach(k=>{traces.push({type:'scatter',mode:'lines',x:grp[k][0],y:grp[k][1],xaxis:xr,yaxis:yr,line:{color:COL[k],width:1.2},hoverinfo:'skip'});});
    } else {
      Object.assign(xa,{range:[-2,25]},tickSet(HIST_XTICKS));
      xa.tickfont = {family:ARIAL,size:10,color:COL.tick};
      ya = Object.assign(axBase(),{domain:yd(sd[3]),anchor:xr,range:[0,4000]},tickSet(HIST_YTICKS));
      ya.tickfont = {family:ARIAL,size:10,color:COL.tick};
      const h = S.hist;
      traces.push({type:'bar',x:h.bin[0],y:h.bin[1],width:h.bin[2],xaxis:xr,yaxis:yr,marker:{color:COL.bin,line:{width:0}},hoverinfo:'skip'});
      traces.push({type:'bar',x:h.mon[0],y:h.mon[1],width:h.mon[2],xaxis:xr,yaxis:yr,marker:{color:COL.mon,line:{width:0}},hoverinfo:'skip'});
      // brackets
      [[BR_BV[i],'#44d844',g.curly],[BR_MV[i],'#a455f0',false]].forEach(b=>{
        const [x0,x1,xc,yt,yb,ye]=b[0]; let path;
        if(b[2]){
          const rx=(x1-x0)*0.04, ry=(yb-ye)*0.6;
          path=`M ${x0},${ye} L ${x0},${yb-ry} Q ${x0},${yb} ${x0+rx},${yb} L ${xc-rx},${yb} Q ${xc},${yb} ${xc},${yt} Q ${xc},${yb} ${xc+rx},${yb} L ${x1-rx},${yb} Q ${x1},${yb} ${x1},${yb-ry} L ${x1},${ye}`;
        } else {
          path=`M ${x0},${ye} L ${x0},${yb} L ${x1},${yb} L ${x1},${ye} M ${xc},${yb} L ${xc},${yt}`;
        }
        layout.shapes.push({type:'path',xref:xr,yref:yr,path:path,line:{color:b[1],width:1.3}});
      });
      txt(g.brTxt[0][0],g.brTxt[0][1],BV_RANGE_TXT[i],{xanchor:'left',font:{family:CAL,size:16,color:COL.binTxt}});
      txt(g.brTxt[1][0],g.brTxt[1][1],MV_RANGE_TXT[i],{xanchor:'left',font:{family:CAL,size:16,color:COL.monTxt}});
      if(MV_RANGE_TXT2[i]) txt(1153,398.3,MV_RANGE_TXT2[i],{font:{family:CAL,size:16,color:COL.monTxt}});
      txt(g.xlab,502,'Horizontal misalignment (deg)',{font:{family:ARIAL,size:11.5,color:'#222'}});
    }
    layout[xk]=xa; layout[yk]=ya;
  });
  // panel frame, letter, titles
  prect(g.box[0],36.5,g.box[1],540,'#000',null,3);
  txt(g.letter,23,L,{font:{family:ARIAL,size:17,color:'#000',weight:'bold'}});
  txt(g.title,52,PANEL_TITLES[i],{font:{family:ARIAL,size:17,color:'#000'}});
  txt(g.sub[0],68,'Binocular',{font:{family:CAL,size:14.5,color:'#000'}});
  txt(g.sub[0],86,'Viewing (BV)',{font:{family:CAL,size:14.5,color:'#000'}});
  txt(g.sub[1],68,'Left eye',{font:{family:CAL,size:14.5,color:'#000'}});
  txt(g.sub[1],86,'Viewing (MV)',{font:{family:CAL,size:14.5,color:'#000'}});
  txt(g.gt[0][0],g.gt[0][1],GOOD_BV[i],{font:{family:ARIAL,size:13,color:'#000'}});
  txt(g.gt[1][0],g.gt[1][1],GOOD_MV[i],{font:{family:ARIAL,size:13,color:'#000'}});
  // right / left arrows
  arrow(g.arrowX,135,g.arrowX,92,{arrowwidth:2});
  arrow(g.arrowX,143,g.arrowX,182,{arrowwidth:2});
  txt(g.rlX,113,'Right',{textangle:-90,font:{family:ARIAL,size:9,color:'#000'}});
  txt(g.rlX,161,'Left',{textangle:-90,font:{family:ARIAL,size:9,color:'#000'}});
  txt((g.bv[0]+g.bv[1])/2,302,'Time (s)',{font:{family:ARIAL,size:10.5,color:'#222'}});
  txt((g.mv[0]+g.mv[1])/2,302,'Time (s)',{font:{family:ARIAL,size:10.5,color:'#222'}});
});

// axis titles (panel A only)
txt(60,135.5,'Eye position (deg)',{textangle:-90,font:{family:ARIAL,size:10.5,color:'#222'}});
txt(54,241.7,'Eye deviation (deg)',{textangle:-90,font:{family:ARIAL,size:11,color:'#222'}});
txt(41.7,406.7,'Frequency',{textangle:-90,font:{family:ARIAL,size:11,color:'#222'}});

// legends (panel A)
prect(178.3,93.3,315,125,'#000','#fff',1);
pline(180.3,102.3,200,102.3,COL.expH,1.5); pline(253,102.3,275,102.3,'#222',1.5);
pline(180.3,116,200,116,COL.expV,1.5); pline(253,116,275,116,'#c4c4c4',1.5);
const LF8={family:ARIAL,size:8,color:'#000'};
txt(201,102,'Expected<sub>Horz</sub>',{xanchor:'left',font:LF8});
txt(276,102,'Actual<sub>Horz</sub>',{xanchor:'left',font:LF8});
txt(201,116,'Expected<sub>Vert</sub>',{xanchor:'left',font:LF8});
txt(276,116,'Actual<sub>Vert</sub>',{xanchor:'left',font:LF8});
prect(122.7,209.3,185,230,'#000','#fff',1);
pline(124,214,145.7,214,COL.hor,1.5); pline(124,224.3,145.7,224.3,COL.ver,1.5);
txt(146.5,214,'Horizontal',{xanchor:'left',font:LF8});
txt(146.5,224.3,'Vertical',{xanchor:'left',font:LF8});
prect(236.7,320,307.3,341.7,'#000','#fff',1);
prect(238.7,322,260.7,330.5,COL.bin,COL.bin,0.5);
prect(238.7,332,260.7,340,'#bf80ff','#bf80ff',0.5);
txt(262.5,326.3,'Binocular',{xanchor:'left',font:{family:ARIAL,size:9,color:'#000'}});
txt(262.5,336,'Monocular',{xanchor:'left',font:{family:ARIAL,size:9,color:'#000'}});

// call-out annotations
const NF={family:ARIAL,size:10,color:'#000'};
txt(208,217.5,'Minimal exodeviation<br>of right eye in MV',{xanchor:'left',align:'left',font:NF});
arrow(236.7,231.7,253.3,258.3);
txt(181.7,455.7,'Rightward shift of histogram<br>indicates increasing minimum<br>misalignment',{xanchor:'left',align:'left',font:{family:ARIAL,size:9,color:'#000'}});
arrow(177.7,433,230,433,{arrowwidth:1.6});
txt(577,216,'Significant<br>exodeviation of<br>right eye in MV',{align:'center',font:NF});
arrow(541.7,228,531,242.7);
txt(675,216,'Gradual exodeviation<br>of right eye in BV',{xanchor:'left',align:'left',font:NF});
arrow(705.7,228,720,257.3);
txt(795,205.5,'Significant exodeviation<br>of right eye in MV',{xanchor:'left',align:'left',font:NF});
arrow(824,217,839.3,245);
txt(975,201,'Significant exodeviation of<br>right eye in both BV and MV',{xanchor:'left',align:'left',font:NF});
arrow(1005,213,1020,243);
arrow(1093,193,1120,216.7);

Plotly.newPlot('chart',traces,layout,{displayModeBar:false,staticPlot:true});
</script></body></html>
